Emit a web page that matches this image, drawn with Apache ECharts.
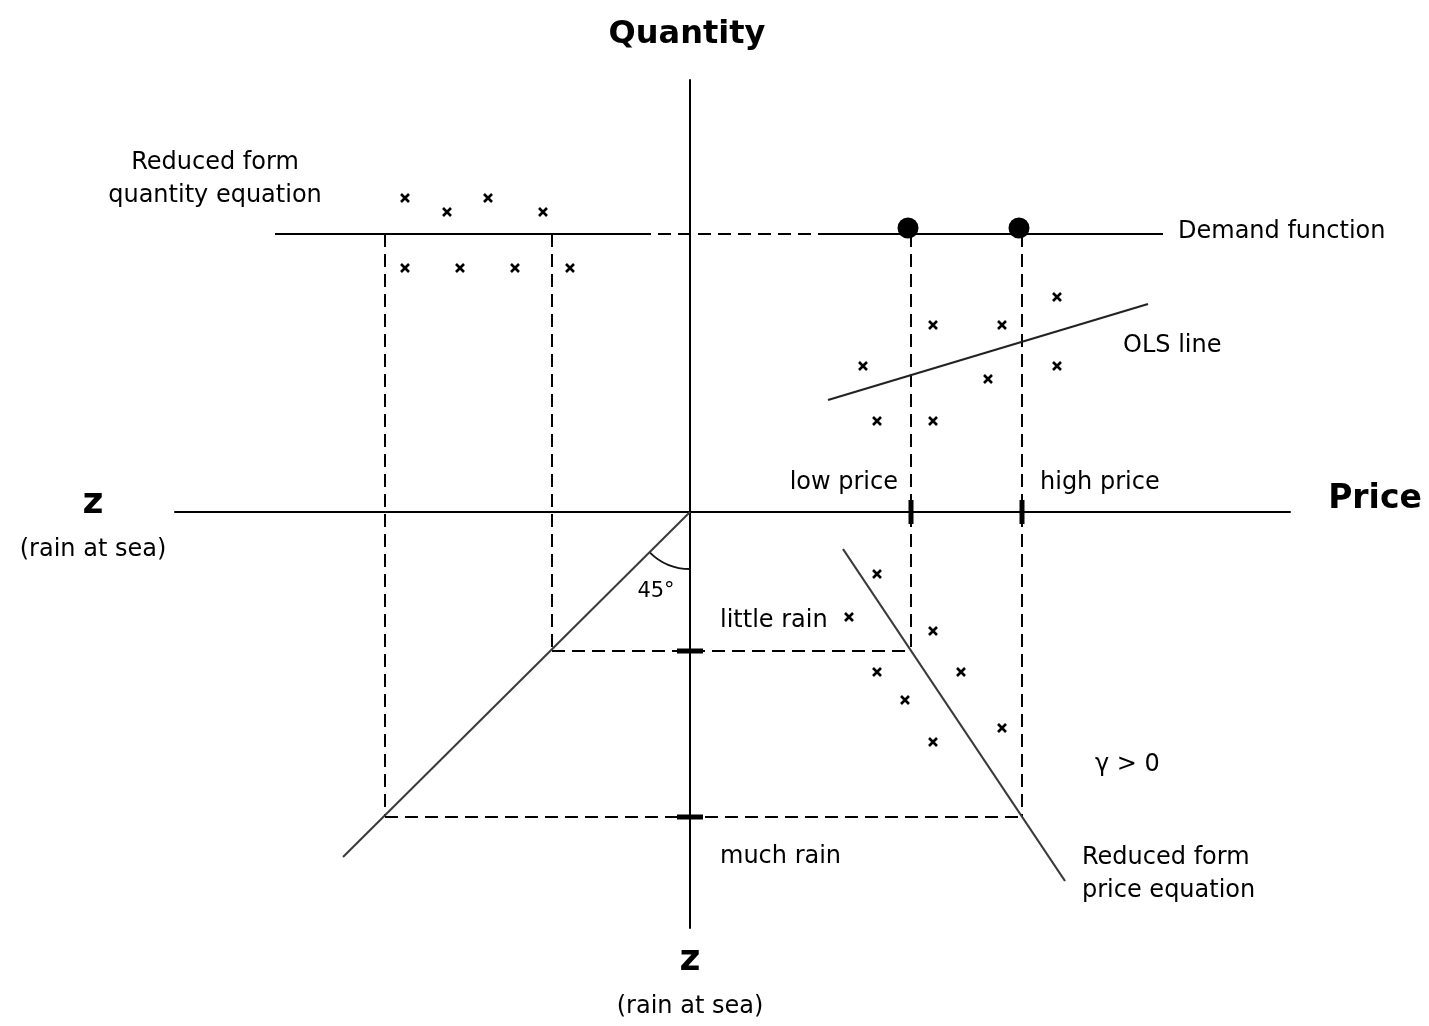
<!DOCTYPE html>
<html>
<head>
<meta charset="utf-8">
<script src="https://cdn.jsdelivr.net/npm/echarts@6/dist/echarts.min.js"></script>
<style>
  html, body { margin: 0; padding: 0; background: #fff; }
  #chart { width: 1429px; height: 1026px; }
</style>
</head>
<body>
<div id="chart"></div>
<script>
// data space: origin where the Price axis crosses the z / Quantity axis
// x range / y range of the axes
var xRange = [-515, 600];
var yRange = [-416, 432];

// demand function (horizontal), solid parts and dashed middle part
var demandSolid = [[[-415, 278], [-52, 278]], [[135, 278], [473, 278]]];
var demandDashed = [[[-52, 278], [135, 278]]];
var demandPoints = [[218, 284], [329, 284]];

// dashed projection lines
var dashedLines = [
    [[-305, 278], [-305, -305]],
    [[-138, 278], [-138, -139]],
    [[221, 278], [221, -139]],
    [[332, 278], [332, -305]],
    [[-138, -139], [221, -139]],
    [[-305, -305], [332, -305]]
];

// 45 degree line, reduced form price equation, OLS line
var line45 = [[0, 0], [-347, -345]];
var priceEqLine = [[153, -37], [375, -369]];
var olsLine = [[138, 112], [458, 208]];

// ticks: low / high price on the price axis, little / much rain on z axis
var priceTicks = [221, 332];
var rainTicks = [-139, -305];

// observations (x marks)
var crossesQuantity = [[-285, 314], [-243, 300], [-202, 314], [-147, 300],
    [-285, 244], [-230, 244], [-175, 244], [-120, 244]];
var crossesOLS = [[367, 215], [243, 187], [312, 187], [173, 146],
    [298, 133], [367, 146], [187, 91], [243, 91]];
var crossesPrice = [[187, -62], [159, -105], [243, -119], [187, -160],
    [271, -160], [215, -188], [312, -216], [243, -230]];

var FONT = '"DejaVu Sans", Verdana, sans-serif';

function segSeries(seg, style) {
    return {
        type: 'line',
        data: seg,
        symbol: 'none',
        silent: true,
        clip: false,
        lineStyle: style
    };
}

var series = [];
demandSolid.forEach(function (s) {
    series.push(segSeries(s, { color: '#000', width: 2 }));
});
demandDashed.forEach(function (s) {
    series.push(segSeries(s, { color: '#000', width: 2, type: [13, 7] }));
});
dashedLines.forEach(function (s) {
    series.push(segSeries(s, { color: '#000', width: 2, type: [13, 7] }));
});
series.push(segSeries(line45, { color: '#3a3a3a', width: 2 }));
series.push(segSeries(priceEqLine, { color: '#3a3a3a', width: 2.2 }));
series.push(segSeries(olsLine, { color: '#222', width: 2.2 }));
priceTicks.forEach(function (x) {
    series.push(segSeries([[x, -12], [x, 12]], { color: '#000', width: 5 }));
});
rainTicks.forEach(function (y) {
    series.push(segSeries([[-13, y], [13, y]], { color: '#000', width: 5 }));
});

var crossSymbol = 'path://M0,0L10,10M10,0L0,10';
[crossesQuantity, crossesOLS, crossesPrice].forEach(function (d) {
    series.push({
        type: 'scatter',
        data: d,
        symbol: crossSymbol,
        symbolSize: 8,
        silent: true,
        clip: false,
        itemStyle: { color: 'none', borderColor: '#000', borderWidth: 2.6, opacity: 1 }
    });
});

series.push({
    type: 'scatter',
    data: demandPoints,
    symbol: 'circle',
    symbolSize: 21,
    silent: true,
    itemStyle: { color: '#000', opacity: 1 }
});

// 45 degree arc at the origin
series.push({
    type: 'custom',
    data: [[0, 0]],
    silent: true,
    renderItem: function (params, api) {
        var c = api.coord([api.value(0), api.value(1)]);
        return {
            type: 'arc',
            shape: { cx: c[0], cy: c[1], r: 57, startAngle: Math.PI / 2, endAngle: Math.PI * 3 / 4, clockwise: true },
            style: { stroke: '#111', fill: null, lineWidth: 1.8 }
        };
    }
});

function txt(x, y, text, size, opts) {
    opts = opts || {};
    return {
        type: 'text',
        x: x,
        y: y,
        silent: true,
        style: {
            text: text,
            font: (opts.bold ? 'bold ' : '') + size + 'px ' + FONT,
            fill: '#000',
            align: opts.align || 'center',
            verticalAlign: 'middle',
            lineHeight: opts.lineHeight || size * 1.3
        }
    };
}

var graphics = [
    txt(687, 35, 'Quantity', 32, { bold: true }),
    txt(1375, 499, 'Price', 33, { bold: true }),
    txt(93, 504, 'z', 36, { bold: true }),
    txt(93, 550, '(rain at sea)', 24),
    txt(690, 961, 'z', 36, { bold: true }),
    txt(690, 1007, '(rain at sea)', 24),
    txt(215, 179, 'Reduced form\nquantity equation', 24, { lineHeight: 33 }),
    txt(1178, 232, 'Demand function', 24, { align: 'left' }),
    txt(1123, 346, 'OLS line', 24, { align: 'left' }),
    txt(898, 483, 'low price', 24, { align: 'right' }),
    txt(1040, 483, 'high price', 24, { align: 'left' }),
    txt(656, 592, '45°', 21),
    txt(720, 621, 'little rain', 24, { align: 'left' }),
    txt(720, 857, 'much rain', 24, { align: 'left' }),
    txt(1095, 765, 'γ > 0', 24, { align: 'left' }),
    txt(1082, 874, 'Reduced form\nprice equation', 24, { align: 'left', lineHeight: 33 })
];

var chart = echarts.init(document.getElementById('chart'));
var option = {
    backgroundColor: '#fff',
    animation: false,
    grid: { left: 175, right: 139, top: 80, bottom: 98, containLabel: false },
    xAxis: {
        type: 'value',
        min: xRange[0],
        max: xRange[1],
        axisLine: { show: true, onZero: true, lineStyle: { color: '#000', width: 2 } },
        axisTick: { show: false },
        axisLabel: { show: false },
        splitLine: { show: false }
    },
    yAxis: {
        type: 'value',
        min: yRange[0],
        max: yRange[1],
        axisLine: { show: true, onZero: true, lineStyle: { color: '#000', width: 2 } },
        axisTick: { show: false },
        axisLabel: { show: false },
        splitLine: { show: false }
    },
    graphic: graphics,
    series: series
};
chart.setOption(option);
</script>
</body>
</html>
